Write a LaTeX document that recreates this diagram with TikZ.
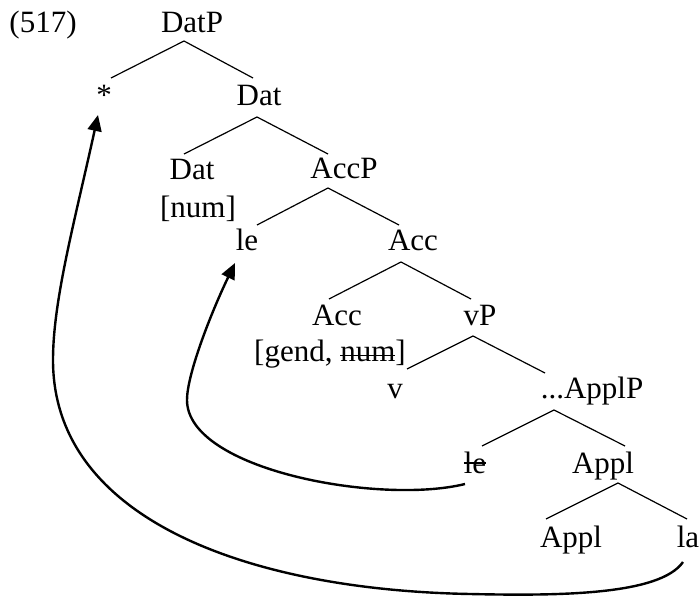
\documentclass[tikz,border=0pt]{standalone}
\usepackage{fontspec}
\setmainfont{Liberation Serif}
\usetikzlibrary{calc,arrows.meta}
\newcommand\strk[2][0.3em]{\sbox0{#2}\rlap{\rule[#1]{\wd0}{1.4pt}}\usebox0}
\begin{document}
\begin{tikzpicture}[x=1pt,y=1pt,
  lab/.style={font=\fontsize{31}{37}\selectfont, anchor=base, inner sep=0pt},
  branch/.style={line width=1.2pt},
  move/.style={line width=2.4pt, -{Triangle[length=16pt,width=14pt]}}]
\useasboundingbox (0,0) rectangle (699,-596);
\node[lab] (ex) at (43,-33) {(517)};
\node[lab] (DatP) at (192,-33) {DatP};
\node[lab] (star) at (104,-106) {*};
\node[lab] (Dat) at (259,-106) {Dat};
\node[lab] (Dat2) at (192,-180) {Dat};
\node[lab] (num) at (198,-218) {[num]};
\node[lab] (AccP) at (344,-179) {AccP};
\node[lab] (le) at (247,-251) {le};
\node[lab] (Acc) at (413,-251) {Acc};
\node[lab] (Acc2) at (337,-325) {Acc};
\node[lab] (gend) at (330,-361) {[gend, \strk[0.15em]{num}]};
\node[lab] (vP) at (480,-325) {vP};
\node[lab] (v) at (395,-398) {v};
\node[lab] (ApplP) at (592,-398) {...ApplP};
\node[lab] (le2) at (475,-473) {\strk{le}};
\node[lab] (Appl) at (603,-473) {Appl};
\node[lab] (Appl2) at (571,-547) {Appl};
\node[lab] (la) at (688,-547) {la};

\draw[branch] ($(DatP.base)+(-8,-8)$) -- ($(star.base)+(7,28)$);
\draw[branch] ($(DatP.base)+(-8,-8)$) -- ($(Dat.base)+(-6,28)$);
\draw[branch] ($(Dat.base)+(-2,-11)$) -- ($(Dat2.base)+(-8,26)$);
\draw[branch] ($(Dat.base)+(-2,-11)$) -- ($(AccP.base)+(-16,25)$);
\draw[branch] ($(AccP.base)+(-16,-9)$) -- ($(le.base)+(10,26)$);
\draw[branch] ($(AccP.base)+(-16,-9)$) -- ($(Acc.base)+(-14,26)$);
\draw[branch] ($(Acc.base)+(-12,-11)$) -- ($(Acc2.base)+(-8,26)$);
\draw[branch] ($(Acc.base)+(-12,-11)$) -- ($(vP.base)+(-9,26)$);
\draw[branch] ($(vP.base)+(-7,-11)$) -- ($(v.base)+(12,29)$);
\draw[branch] ($(vP.base)+(-7,-11)$) -- ($(ApplP.base)+(-47,25)$);
\draw[branch] ($(ApplP.base)+(-38,-12)$) -- ($(le2.base)+(7,27)$);
\draw[branch] ($(ApplP.base)+(-38,-12)$) -- ($(Appl.base)+(22,27)$);
\draw[branch] ($(Appl.base)+(15,-10)$) -- ($(Appl2.base)+(-25,28)$);
\draw[branch] ($(Appl.base)+(15,-10)$) -- ($(la.base)+(-1,28)$);

\draw[move] ($(le2.base)+(-10,-11)$) .. controls (380,-505) and (187,-470) .. (187,-400)
  .. controls (187,-375) and (210,-315) .. ($(le.base)+(-12,-12)$);
\draw[move] ($(la.base)+(-5,-15)$) .. controls (660,-595) and (560,-596) .. (470,-594)
  .. controls (250,-590) and (53,-520) .. (53,-360)
  .. controls (53,-300) and (75,-220) .. ($(star.base)+(-6,-9)$);
\end{tikzpicture}
\end{document}
